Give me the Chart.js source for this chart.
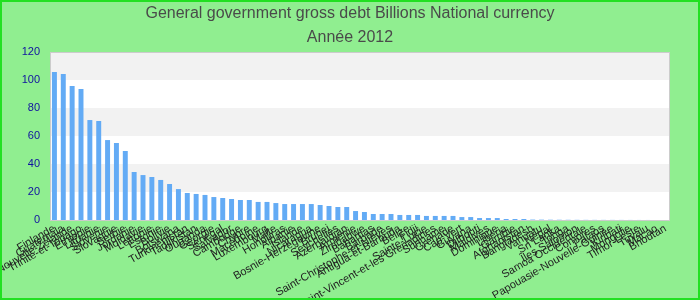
<!DOCTYPE html>
<html>
<head>
<meta charset="utf-8">
<script src="https://cdn.jsdelivr.net/npm/chart.js@4"></script>
<style>
    body { margin: 0; background: #fff; }
    #wrap { width: 700px; height: 300px; }
</style>
</head>
<body>
<div id="wrap"><canvas id="chart" width="700" height="300"></canvas></div>
<script>
// Categories (countries), sorted by value
const countries = [
    'Finlande', 'Guatemala', 'Nouvelle-Zélande', 'Trinité-et-Tobago', 'Éthiopie',
    'Lituanie', 'Slovénie', 'Slovaquie', 'Serbie', 'Jordanie',
    'Moldavie', 'Lettonie', 'Estonie', 'Bolivie', 'Botswana',
    'Turkménistan', 'Tadjikistan', 'Ouganda', 'Géorgie', 'Sénégal',
    'Salvador', 'Cambodge', 'Chypre', 'Macédoine', 'Luxembourg',
    'Malte', 'Honduras', 'Albanie', 'Islande', 'Nicaragua',
    'Bosnie-Herzégovine', 'Brunei', 'Seychelles', 'Azerbaïdjan', 'Arménie',
    'Zimbabwe', 'Bahamas', 'Barbade', 'Saint-Christophe-et-Niévès', 'Antigua-et-Barbuda',
    'Belize', 'Fidji', 'Sainte-Lucie', 'Saint-Vincent-et-les Grenadines', 'Suriname',
    'Grenade', 'Cap-Vert', 'Guyana', 'Djibouti', 'Maldives',
    'Dominique', 'Libéria', 'Gambie', 'Afghanistan', 'Bangladesh',
    'Vanuatu', 'Népal', 'Sri Lanka', 'Tonga', 'Îles Salomon',
    'Samoa Occidentale', 'Comores', 'Palaos', 'Papouasie-Nouvelle-Guinée', 'Kiribati',
    'Mongolie', 'Timor-Leste', 'Tuvalu', 'Macao', 'Bhoutan'
];

// Debt values, billions of national currency
const debt = [
    105.7, 104.3, 95.7, 93.6, 71.4, 70.7, 57.1, 55.0, 49.3, 34.3,
    32.1, 30.7, 28.6, 25.7, 22.1, 19.3, 18.6, 17.9, 16.4, 15.7,
    15.0, 14.3, 14.3, 12.9, 12.9, 12.1, 11.4, 11.4, 11.4, 11.4,
    10.7, 10.0, 9.3, 9.3, 6.4, 5.7, 4.3, 4.3, 4.3, 3.6,
    3.6, 3.6, 2.9, 2.9, 2.9, 2.9, 2.1, 2.1, 1.4, 1.4,
    1.4, 0.7, 0.7, 0.7, 0.3, 0.25, 0.2, 0.18, 0.15, 0.12,
    0.1, 0.09, 0.08, 0.07, 0.06, 0.05, 0.04, 0.03, 0.02, 0.01
];

const yTicks = [0, 20, 40, 60, 80, 100, 120];
const bands = [[20, 40], [60, 80], [100, 120]];

// Background, plot area bands and frame
const backdrop = {
    id: 'backdrop',
    beforeDraw(chart) {
        const ctx = chart.ctx;
        const area = chart.chartArea;
        const y = chart.scales.y;
        ctx.save();
        ctx.fillStyle = '#90ee90';
        ctx.fillRect(0, 0, chart.width, chart.height);
        ctx.fillStyle = '#ffffff';
        ctx.fillRect(area.left, area.top, area.right - area.left, area.bottom - area.top);
        ctx.fillStyle = '#f2f2f2';
        bands.forEach(b => {
            const top = y.getPixelForValue(b[1]);
            const bottom = y.getPixelForValue(b[0]);
            ctx.fillRect(area.left, top, area.right - area.left, bottom - top);
        });
        ctx.strokeStyle = '#cccccc';
        ctx.lineWidth = 1;
        ctx.strokeRect(area.left + 0.5, area.top + 0.5, area.right - area.left - 1, area.bottom - area.top);
        ctx.restore();
    },
    afterDraw(chart) {
        const ctx = chart.ctx;
        ctx.save();
        ctx.strokeStyle = '#22e022';
        ctx.lineWidth = 2;
        ctx.strokeRect(1, 1, chart.width - 2, chart.height - 2);
        ctx.restore();
    }
};

new Chart(document.getElementById('chart'), {
    type: 'bar',
    data: {
        labels: countries,
        datasets: [{
            label: 'Dette',
            data: debt,
            backgroundColor: '#63abf5',
            barPercentage: 0.7,
            categoryPercentage: 0.8
        }]
    },
    options: {
        responsive: false,
        animation: false,
        layout: { padding: { left: 10, right: 10, top: 0, bottom: 0 } },
        plugins: {
            legend: { display: false },
            tooltip: { enabled: false },
            title: {
                display: true,
                text: ['General government gross debt Billions National currency', 'Année 2012'],
                color: '#4a4a4a',
                font: { family: 'Liberation Sans', size: 16, weight: 'normal', lineHeight: 1.5 },
                padding: { top: 2, bottom: 2 }
            }
        },
        scales: {
            x: {
                grid: { display: false, drawTicks: false },
                border: { display: false },
                ticks: {
                    autoSkip: false,
                    minRotation: 30,
                    maxRotation: 30,
                    padding: 2,
                    color: '#222222',
                    font: { family: 'Liberation Sans', size: 11 }
                },
                afterFit(scale) { scale.height = 80; }
            },
            y: {
                min: 0,
                max: 120,
                afterBuildTicks(scale) { scale.ticks = yTicks.map(v => ({ value: v })); },
                grid: { display: false, drawTicks: false },
                border: { display: false },
                ticks: {
                    padding: 10,
                    color: '#1010a0',
                    font: { family: 'Liberation Sans', size: 11 }
                },
                afterFit(scale) { scale.width = 40; }
            },
            // empty right margin so the title stays centred on the canvas
            spacer: {
                position: 'right',
                grid: { display: false, drawTicks: false },
                border: { display: false },
                ticks: { display: false },
                afterFit(scale) { scale.width = 20; }
            }
        }
    },
    plugins: [backdrop]
});
</script>
</body>
</html>
